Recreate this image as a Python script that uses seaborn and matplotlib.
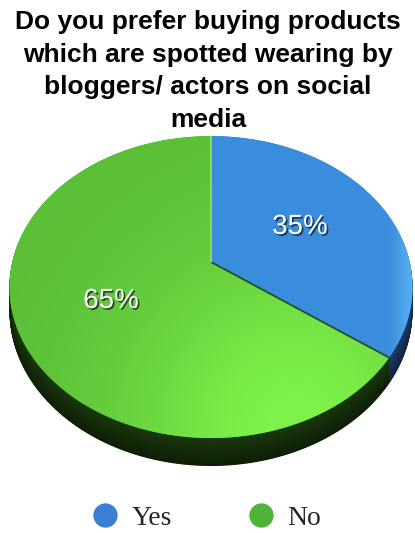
import numpy as np
import matplotlib
matplotlib.use("Agg")
import matplotlib.pyplot as plt
import matplotlib.transforms as mtransforms
import matplotlib.patheffects as pe
from matplotlib.path import Path
from matplotlib.lines import Line2D
import seaborn as sns

# ---- data -------------------------------------------------------------
categories = ["Yes", "No"]
shares = [35, 65]
share_labels = ["35%", "65%"]
title = ("Do you prefer buying products\nwhich are spotted wearing by\n"
         "bloggers/ actors on social\nmedia")

# ---- style ------------------------------------------------------------
sns.set_theme(style="white")
plt.rcParams["font.family"] = ["Liberation Sans", "DejaVu Sans"]

face_colors = ["#3d8fe0", "#5ec23a"]
side_colors_top = ["#1c3d6a", "#1a380d"]
side_colors_bot = ["#10243f", "#0d1f06"]
legend_colors = ["#3a7fd3", "#4fb33a"]

W, H = 415, 533
fig = plt.figure(figsize=(W / 100, H / 100), dpi=100)
ax = fig.add_axes([0, 0, 1, 1])


class Tilt(mtransforms.Transform):
    """Project the unit disk onto a tilted plane seen in perspective (pixel units)."""
    input_dims = output_dims = 2

    def __init__(self, cx, cy, rx, ry, k, drop=0.0):
        super().__init__()
        self.cx, self.cy, self.rx, self.ry, self.k, self.drop = cx, cy, rx, ry, k, drop

    def transform_non_affine(self, values):
        xy = np.asarray(values, dtype=float).reshape(-1, 2)
        x, y = xy[:, 0], xy[:, 1]
        s = 1.0 / (1.0 + self.k * y)
        X = self.cx + self.rx * x * s
        Y = self.cy - self.ry * y * s + self.drop * s * (1 - self.k)
        return np.column_stack([X, Y])

    def transform_path_non_affine(self, path):
        # flatten curves into short line pieces before projecting
        verts, codes = [], []
        for bez, code in path.iter_bezier():
            cp = np.asarray(bez.control_points, dtype=float)
            if code == Path.MOVETO:
                verts.append(cp[0])
                codes.append(Path.MOVETO)
                continue
            n = 24 if len(cp) > 2 else 12
            pts = bez(np.linspace(0, 1, n + 1)[1:])
            verts.extend(pts)
            codes.extend([Path.LINETO] * len(pts))
        if not verts:
            return Path(np.empty((0, 2)))
        return Path(self.transform_non_affine(np.array(verts)),
                    np.array(codes, dtype=Path.code_type))


CX, CY, RX, RY, K = 211, 262, 198.7, 146.8, 0.166
DEPTH = 28

# side of the pie: stacked copies of the slices, pushed down
for d in np.arange(DEPTH, 0, -0.5):
    f = d / DEPTH
    cols = [tuple(np.array(matplotlib.colors.to_rgb(a)) * (1 - f)
                  + np.array(matplotlib.colors.to_rgb(b)) * f)
            for a, b in zip(side_colors_top, side_colors_bot)]
    wedges, _ = ax.pie(shares, startangle=90, counterclock=False, colors=cols,
                       wedgeprops=dict(linewidth=0))
    for w in wedges:
        w.set_transform(Tilt(CX, CY, RX, RY, K, drop=d) + ax.transData)
        w.set_zorder(1)

# top face
top_wedges, _ = ax.pie(shares, startangle=90, counterclock=False,
                       colors=face_colors, wedgeprops=dict(linewidth=0))
tilt = Tilt(CX, CY, RX, RY, K)
for w in top_wedges:
    w.set_transform(tilt + ax.transData)
    w.set_zorder(2)

# soft shading on the top face
yy, xx = np.mgrid[0:H, 0:W]
glow = np.exp(-((xx - 295) ** 2 + (yy - 425) ** 2) / (2 * 120.0 ** 2))
green_lo = np.array(matplotlib.colors.to_rgb("#5abf38"))
green_hi = np.array(matplotlib.colors.to_rgb("#80f34a"))
green_img = green_lo + glow[..., None] * (green_hi - green_lo)
rim = np.exp(-((xx - 410) ** 2) / (2 * 10.0 ** 2))
blue_lo = np.array(matplotlib.colors.to_rgb("#3a8ddd"))
blue_hi = np.array(matplotlib.colors.to_rgb("#55acf2"))
blue_img = blue_lo + rim[..., None] * (blue_hi - blue_lo)
for img, w in zip([blue_img, green_img], top_wedges):
    im = ax.imshow(img, extent=(0, W, H, 0), origin="upper", zorder=3,
                   interpolation="bilinear")
    im.set_clip_path(w)

# slice boundaries: light edge where "Yes" starts, dark edge where it ends
ang_end = shares[0] / sum(shares) * 2 * np.pi
ax.plot([0, np.sin(ang_end)], [0, np.cos(ang_end)], color="#244f2a", lw=1.3,
        transform=tilt + ax.transData, zorder=4)
ax.plot([0, 0], [0, 1], color="#8fe35c", lw=1.2,
        transform=tilt + ax.transData, zorder=4)

# percentage labels
label_pos = [(300, 227), (111, 301)]
for txt, (x, y) in zip(share_labels, label_pos):
    ax.text(x, y, txt, color="white", fontsize=20, ha="center", va="center",
            zorder=6,
            path_effects=[pe.withSimplePatchShadow(offset=(1.2, -1.2),
                                                   shadow_rgbFace="#1a1a1a",
                                                   alpha=0.75)])

# title
ax.text(208, 10, title, ha="center", va="top", fontsize=19, fontweight="bold",
        color="black", linespacing=1.45, zorder=6)

ax.set_aspect("auto")
ax.set_xlim(0, W)
ax.set_ylim(H, 0)
ax.axis("off")

# legend
handles = [Line2D([], [], marker="o", linestyle="none", markersize=16.5,
                  markerfacecolor=c, markeredgecolor=c) for c in legend_colors]
ax.legend(handles, categories, loc="center", bbox_to_anchor=(206 / W, 1 - 518 / H),
          bbox_transform=fig.transFigure, ncol=2, frameon=False,
          prop={"family": "Liberation Serif", "size": 20},
          handlelength=1.0, handletextpad=0.45, columnspacing=2.7,
          borderpad=0, borderaxespad=0)

fig.savefig("out.png", dpi=100)
